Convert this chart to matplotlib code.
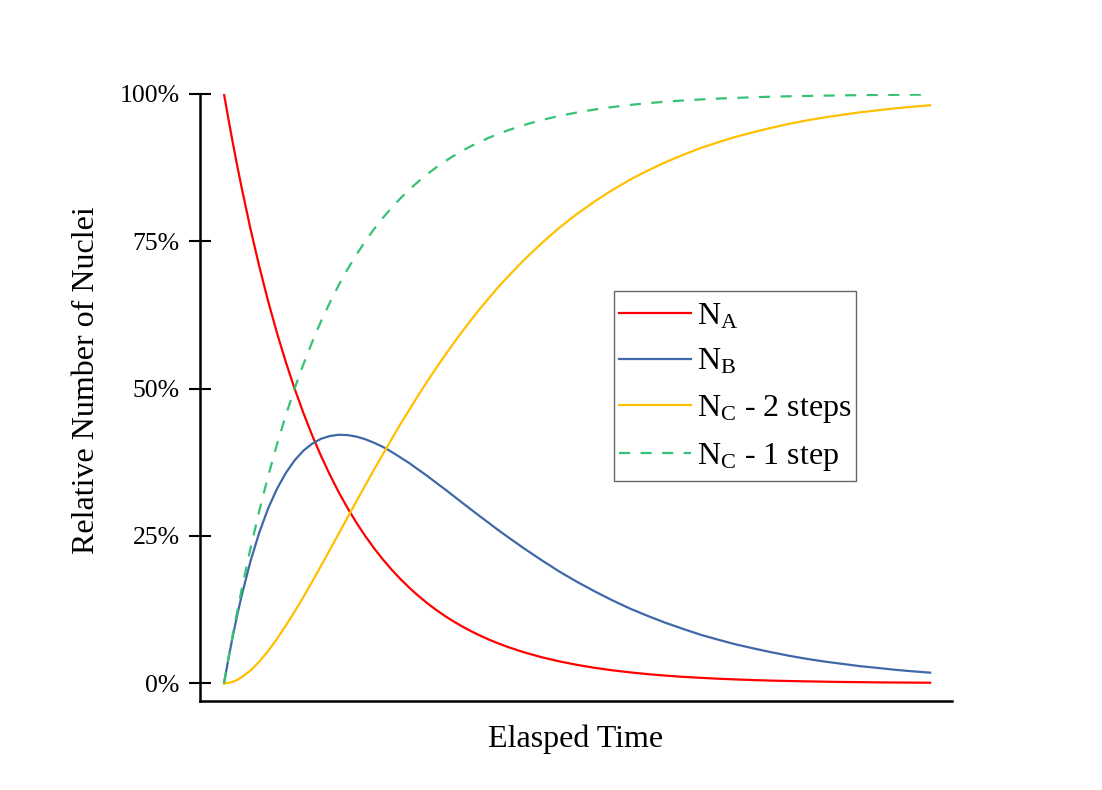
import matplotlib
matplotlib.use("Agg")
import matplotlib.pyplot as plt
from matplotlib.path import Path
from matplotlib.ticker import FuncFormatter

plt.rcParams["font.family"] = ["Liberation Serif", "DejaVu Serif"]
plt.rcParams["mathtext.fontset"] = "custom"
plt.rcParams["mathtext.rm"] = "Liberation Serif"
plt.rcParams["mathtext.it"] = "Liberation Serif:italic"

# elapsed time (arbitrary units, one unit = half-life of A)
time = [0, 0.0625, 0.125, 0.1875, 0.25, 0.375, 0.5, 0.625, 0.75, 0.875,
        1, 1.125, 1.25, 1.375, 1.5, 1.625, 1.75, 1.875, 2, 2.125, 2.25,
        2.375, 2.5, 2.625, 2.75, 2.875, 3, 3.125, 3.25, 3.375, 3.5, 3.625,
        3.75, 3.875, 4, 4.25, 4.5, 4.75, 5, 5.25, 5.5, 5.75, 6, 6.25, 6.5,
        6.75, 7, 7.25, 7.5, 7.75, 8, 8.25, 8.5, 8.75, 9, 9.25, 9.5, 9.75, 10]

# relative number of nuclei, percent
n_a = [100, 95.76, 91.70, 87.81, 84.09, 77.11, 70.71, 64.84, 59.46, 54.53,
       50.0, 45.85, 42.04, 38.56, 35.36, 32.42, 29.73, 27.27, 25.0, 22.93,
       21.02, 19.28, 17.68, 16.21, 14.87, 13.63, 12.5, 11.46, 10.51, 9.64,
       8.84, 8.11, 7.43, 6.82, 6.25, 5.26, 4.42, 3.72, 3.13, 2.63, 2.21,
       1.86, 1.56, 1.31, 1.10, 0.93, 0.78, 0.66, 0.55, 0.46, 0.39, 0.33,
       0.28, 0.23, 0.20, 0.16, 0.14, 0.12, 0.10]
n_b = [0, 4.16, 8.04, 11.6, 14.88, 20.72, 25.6, 29.68, 33.0, 35.68, 37.84,
       39.48, 40.68, 41.5, 41.96, 42.18, 42.12, 41.86, 41.42, 40.82, 40.12,
       39.26, 38.32, 37.36, 36.28, 35.22, 34.08, 32.96, 31.8, 30.63, 29.48,
       28.34, 27.22, 26.08, 25.0, 22.88, 20.88, 18.96, 17.22, 15.6, 14.08,
       12.68, 11.44, 10.28, 9.24, 8.24, 7.4, 6.6, 5.92, 5.28, 4.68, 4.16,
       3.7, 3.31, 2.92, 2.62, 2.3, 2.04, 1.81]
n_c_two = [0, 0.08, 0.26, 0.59, 1.03, 2.17, 3.69, 5.48, 7.54, 9.79, 12.16,
           14.67, 17.28, 19.95, 22.68, 25.4, 28.15, 30.88, 33.58, 36.26,
           38.86, 41.46, 44.0, 46.43, 48.85, 51.15, 53.42, 55.58, 57.69,
           59.73, 61.68, 63.56, 65.35, 67.1, 68.75, 71.86, 74.7, 77.32,
           79.66, 81.77, 83.71, 85.46, 87.0, 88.41, 89.66, 90.83, 91.82,
           92.74, 93.53, 94.26, 94.93, 95.51, 96.02, 96.46, 96.88, 97.22,
           97.56, 97.84, 98.09]
n_c_one = [0, 4.24, 8.30, 12.19, 15.91, 22.89, 29.29, 35.16, 40.54, 45.47,
           50.0, 54.15, 57.96, 61.45, 64.64, 67.58, 70.27, 72.74, 75.0,
           77.08, 78.98, 80.72, 82.32, 83.79, 85.13, 86.37, 87.5, 88.54,
           89.49, 90.36, 91.16, 91.9, 92.57, 93.18, 93.75, 94.74, 95.58,
           96.28, 96.87, 97.37, 97.79, 98.14, 98.44, 98.69, 98.90, 99.07,
           99.22, 99.34, 99.45, 99.54, 99.61, 99.67, 99.72, 99.77, 99.80,
           99.84, 99.86, 99.88, 99.90]

labels = [r"N$_\mathrm{A}$", r"N$_\mathrm{B}$",
          r"N$_\mathrm{C}$ - 2 steps", r"N$_\mathrm{C}$ - 1 step"]
colors = ["#FF0000", "#3F68A8", "#FFC000", "#35C274"]

fig = plt.figure(figsize=(11.02, 7.90), dpi=100)
ax = fig.add_axes([200 / 1102, 1 - 701 / 790, 752 / 1102, 607 / 790])

ax.plot(time, n_a, color=colors[0], lw=1.6, label=labels[0])
ax.plot(time, n_b, color=colors[1], lw=1.6, label=labels[1])
ax.plot(time, n_c_two, color=colors[2], lw=1.6, label=labels[2])
ax.plot(time, n_c_one, color=colors[3], lw=1.6, ls=(0, (5, 4.7)),
        label=labels[3])

ax.set_xlim(-0.34, 10.31)
ax.set_ylim(-3.0, 100)
ax.set_yticks([0, 25, 50, 75, 100])
ax.yaxis.set_major_formatter(FuncFormatter(lambda v, p: f"{v:.0f}%"))
ax.set_xticks([])

for side in ("top", "right"):
    ax.spines[side].set_visible(False)
for side in ("left", "bottom"):
    ax.spines[side].set_linewidth(1.8)
    ax.spines[side].set_color("black")

ax.tick_params(axis="y", direction="inout", length=16.5, width=1.5,
               labelsize=18.5, pad=6.5)

ax.set_xlabel("Elasped Time", fontsize=23)
ax.set_ylabel("Relative Number of Nuclei", fontsize=23)
ax.xaxis.set_label_coords(0.5, -0.039)
ax.yaxis.set_label_coords(-0.132, 0.528)


def legend_frame(x0, y0, width, height, mutation_size):
    """Rectangle with extra room above and below the legend entries."""
    top, bottom = 6, 3
    return Path([(x0, y0 - bottom), (x0 + width, y0 - bottom),
                 (x0 + width, y0 + height + top), (x0, y0 + height + top),
                 (x0, y0 - bottom)], closed=True)


leg = ax.legend(loc="upper left", bbox_to_anchor=(414 / 752, 1 - 203 / 607),
                fontsize=23, frameon=True, fancybox=False, edgecolor="#404040",
                handlelength=2.25, handletextpad=0.2, labelspacing=0.5,
                borderpad=0.15, borderaxespad=0)
leg.get_frame().set_linewidth(1.0)
leg.get_frame().set_boxstyle(legend_frame)

fig.savefig("out.png", dpi=100, facecolor="white")
